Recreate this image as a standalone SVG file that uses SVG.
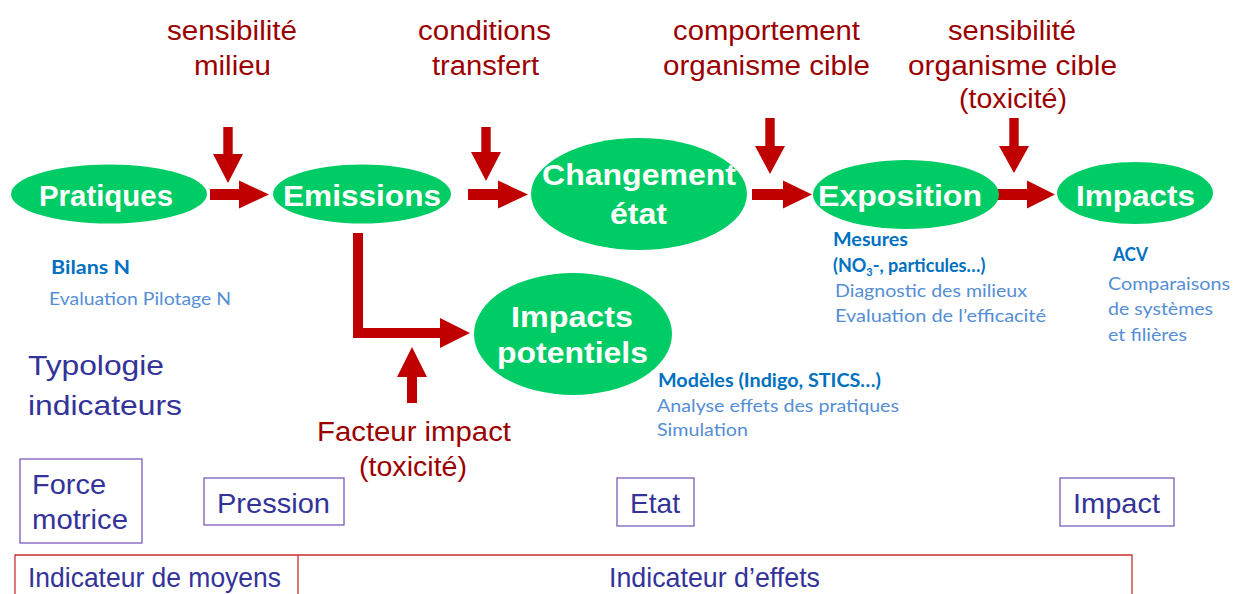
<svg xmlns="http://www.w3.org/2000/svg" width="1233" height="594" viewBox="0 0 1233 594">
<style>
.ell{fill:#00CC66}
.et{font-family:"Liberation Sans",Arial,sans-serif;font-weight:bold;font-size:30px;fill:#FFFFFF}
.rl{font-family:"Liberation Sans",Arial,sans-serif;font-size:27px;fill:#9B0000}
.arr{fill:#C00000}
.bb{font-family:Lato,"Liberation Sans",sans-serif;font-weight:bold;font-size:18px;fill:#0070C0}
.lb{font-family:Lato,"Liberation Sans",sans-serif;font-size:18px;fill:#558ED5}
.nv{font-family:"Liberation Sans",Arial,sans-serif;font-size:28px;fill:#333399}
.box{fill:none;stroke:#7E5BBE;stroke-width:1.3}
.bar{fill:none;stroke:#C83030;stroke-width:1.3}
</style>
<rect width="1233" height="594" fill="#FFFFFF"/>

<g id="connectors">
  <polygon class="arr" points="210,189 239,189 239,180.5 269,194.5 239,208.5 239,200 210,200"/>
  <polygon class="arr" points="468,189 498,189 498,180.5 528,194.5 498,208.5 498,200 468,200"/>
  <polygon class="arr" points="752,189 783,189 783,180.5 812,194.5 783,208.5 783,200 752,200"/>
  <polygon class="arr" points="997,189 1027,189 1027,180.5 1055,194.5 1027,208.5 1027,200 997,200"/>
  <polygon class="arr" points="223.3,127 232.7,127 232.7,154 243,154 228,183 213,154 223.3,154"/>
  <polygon class="arr" points="481.3,127 490.7,127 490.7,152 501,152 486,181 471,152 481.3,152"/>
  <polygon class="arr" points="765.3,118 774.7,118 774.7,146 785,146 770,174 755,146 765.3,146"/>
  <polygon class="arr" points="1009.3,118 1018.7,118 1018.7,146 1029,146 1014,173 999,146 1009.3,146"/>
  <polygon class="arr" points="353,233 363,233 363,328 440,328 440,318 470,333 440,348 440,338 353,338"/>
  <polygon class="arr" points="407,403 417,403 417,377 427,377 412,347 397,377 407,377"/>
</g>

<g id="labels-top">
  <text class="rl" x="167" y="40" textLength="130" lengthAdjust="spacingAndGlyphs">sensibilité</text>
  <text class="rl" x="194" y="75" textLength="77" lengthAdjust="spacingAndGlyphs">milieu</text>
  <text class="rl" x="418" y="40" textLength="133" lengthAdjust="spacingAndGlyphs">conditions</text>
  <text class="rl" x="432" y="75" textLength="107" lengthAdjust="spacingAndGlyphs">transfert</text>
  <text class="rl" x="673" y="40" textLength="187" lengthAdjust="spacingAndGlyphs">comportement</text>
  <text class="rl" x="663" y="75" textLength="207" lengthAdjust="spacingAndGlyphs">organisme cible</text>
  <text class="rl" x="948" y="40" textLength="128" lengthAdjust="spacingAndGlyphs">sensibilité</text>
  <text class="rl" x="908" y="75" textLength="209" lengthAdjust="spacingAndGlyphs">organisme cible</text>
  <text class="rl" x="959" y="108" textLength="108" lengthAdjust="spacingAndGlyphs">(toxicité)</text>
  <text class="rl" x="317" y="441" textLength="194" lengthAdjust="spacingAndGlyphs">Facteur impact</text>
  <text class="rl" x="359" y="476" textLength="108" lengthAdjust="spacingAndGlyphs">(toxicité)</text>
</g>

<g id="node-pratiques">
  <ellipse class="ell" cx="109" cy="194" rx="98" ry="29.5"/>
  <text class="et" x="39" y="206" textLength="134" lengthAdjust="spacingAndGlyphs">Pratiques</text>
</g>
<g id="node-emissions">
  <ellipse class="ell" cx="362" cy="194" rx="89" ry="29.5"/>
  <text class="et" x="283" y="206" textLength="158" lengthAdjust="spacingAndGlyphs">Emissions</text>
</g>
<g id="node-changement">
  <ellipse class="ell" cx="639" cy="194" rx="108" ry="56"/>
  <text class="et" x="542" y="185" textLength="194" lengthAdjust="spacingAndGlyphs">Changement</text>
  <text class="et" x="610" y="224" textLength="57" lengthAdjust="spacingAndGlyphs">état</text>
</g>
<g id="node-exposition">
  <ellipse class="ell" cx="906" cy="194.5" rx="93" ry="34.5"/>
  <text class="et" x="818" y="206" textLength="164" lengthAdjust="spacingAndGlyphs">Exposition</text>
</g>
<g id="node-impacts">
  <ellipse class="ell" cx="1135" cy="193" rx="78" ry="31"/>
  <text class="et" x="1076" y="206" textLength="119" lengthAdjust="spacingAndGlyphs">Impacts</text>
</g>
<g id="node-impacts-potentiels">
  <ellipse class="ell" cx="573" cy="334" rx="99" ry="61"/>
  <text class="et" x="511" y="327" textLength="122" lengthAdjust="spacingAndGlyphs">Impacts</text>
  <text class="et" x="497" y="363" textLength="151" lengthAdjust="spacingAndGlyphs">potentiels</text>
</g>

<g id="notes">
  <text class="bb" x="51" y="274" textLength="79" lengthAdjust="spacingAndGlyphs">Bilans N</text>
  <text class="lb" x="49" y="305" textLength="182" lengthAdjust="spacingAndGlyphs">Evaluation Pilotage N</text>
  <text class="bb" x="833" y="246" textLength="75" lengthAdjust="spacingAndGlyphs">Mesures</text>
  <text class="bb" x="833" y="272">(NO<tspan font-size="11" dy="4">3</tspan><tspan dy="-4">-, particules…)</tspan></text>
  <text class="lb" x="835" y="297" textLength="192" lengthAdjust="spacingAndGlyphs">Diagnostic des milieux</text>
  <text class="lb" x="835" y="322" textLength="211" lengthAdjust="spacingAndGlyphs">Evaluation de l’efficacité</text>
  <text class="bb" x="1113" y="261" textLength="35" lengthAdjust="spacingAndGlyphs">ACV</text>
  <text class="lb" x="1108" y="290" textLength="122" lengthAdjust="spacingAndGlyphs">Comparaisons</text>
  <text class="lb" x="1108" y="315" textLength="105" lengthAdjust="spacingAndGlyphs">de systèmes</text>
  <text class="lb" x="1108" y="341" textLength="79" lengthAdjust="spacingAndGlyphs">et filières</text>
  <text class="bb" x="658" y="387" textLength="223" lengthAdjust="spacingAndGlyphs">Modèles (Indigo, STICS…)</text>
  <text class="lb" x="657" y="412" textLength="242" lengthAdjust="spacingAndGlyphs">Analyse effets des pratiques</text>
  <text class="lb" x="657" y="436" textLength="91" lengthAdjust="spacingAndGlyphs">Simulation</text>
</g>

<g id="typologie">
  <text class="nv" x="28" y="375" textLength="136" lengthAdjust="spacingAndGlyphs">Typologie</text>
  <text class="nv" x="28" y="415" textLength="154" lengthAdjust="spacingAndGlyphs">indicateurs</text>
</g>

<g id="box-force-motrice">
  <rect class="box" x="20" y="459" width="122" height="84"/>
  <text class="nv" x="32" y="494" textLength="74" lengthAdjust="spacingAndGlyphs">Force</text>
  <text class="nv" x="32" y="529" textLength="96" lengthAdjust="spacingAndGlyphs">motrice</text>
</g>
<g id="box-pression">
  <rect class="box" x="204" y="478" width="140" height="47"/>
  <text class="nv" x="217" y="513" textLength="113" lengthAdjust="spacingAndGlyphs">Pression</text>
</g>
<g id="box-etat">
  <rect class="box" x="617" y="478" width="77" height="48"/>
  <text class="nv" x="630" y="513" textLength="50" lengthAdjust="spacingAndGlyphs">Etat</text>
</g>
<g id="box-impact">
  <rect class="box" x="1060" y="478" width="114" height="48"/>
  <text class="nv" x="1073" y="513" textLength="87" lengthAdjust="spacingAndGlyphs">Impact</text>
</g>

<g id="bar">
  <path class="bar" d="M15,594 V555 H1132 V594 M298,555 V594"/>
  <text class="nv" x="28" y="587" textLength="253" lengthAdjust="spacingAndGlyphs">Indicateur de moyens</text>
  <text class="nv" x="609" y="587" textLength="211" lengthAdjust="spacingAndGlyphs">Indicateur d’effets</text>
</g>
</svg>
